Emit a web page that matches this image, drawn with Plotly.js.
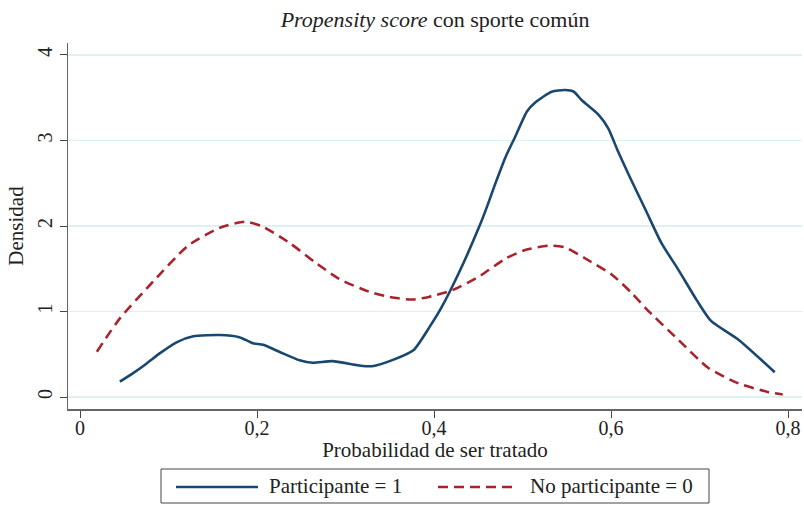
<!DOCTYPE html>
<html>
<head>
<meta charset="utf-8">
<script src="https://cdn.plot.ly/plotly-3.0.1.min.js"></script>
<style>html,body{margin:0;padding:0;background:#fff;}#chart{width:804px;height:505px;}</style>
</head>
<body>
<div id="chart"></div>
<script>
// Participante = 1
const xPart = [0.045, 0.060, 0.075, 0.090, 0.109, 0.128, 0.158, 0.180, 0.195, 0.207, 0.225, 0.248, 0.263, 0.285, 0.315, 0.330, 0.355, 0.377, 0.395, 0.4075, 0.428, 0.451, 0.460, 0.468, 0.481, 0.492, 0.505, 0.515, 0.533, 0.548, 0.558, 0.567, 0.586, 0.597, 0.608, 0.620, 0.639, 0.657, 0.676, 0.697, 0.713, 0.744, 0.785];
const yPart = [0.18, 0.28, 0.39, 0.51, 0.64, 0.71, 0.725, 0.70, 0.63, 0.61, 0.53, 0.43, 0.40, 0.42, 0.37, 0.36, 0.44, 0.55, 0.82, 1.03, 1.45, 1.99, 2.23, 2.46, 2.81, 3.05, 3.34, 3.45, 3.57, 3.59, 3.57, 3.47, 3.30, 3.14, 2.87, 2.60, 2.19, 1.80, 1.49, 1.13, 0.89, 0.67, 0.29];
// No participante = 0
const xNo = [0.019, 0.045, 0.079, 0.122, 0.158, 0.186, 0.205, 0.237, 0.265, 0.293, 0.327, 0.355, 0.376, 0.394, 0.421, 0.451, 0.481, 0.503, 0.530, 0.548, 0.571, 0.601, 0.624, 0.639, 0.676, 0.710, 0.744, 0.777, 0.794];
const yNo = [0.53, 0.92, 1.31, 1.77, 1.98, 2.05, 2.00, 1.80, 1.58, 1.38, 1.23, 1.16, 1.14, 1.17, 1.25, 1.41, 1.62, 1.72, 1.77, 1.75, 1.62, 1.43, 1.21, 1.04, 0.67, 0.34, 0.16, 0.06, 0.03];

const xTickVals = [0, 0.2, 0.4, 0.6, 0.8];
const xTickText = ['0', '0,2', '0,4', '0,6', '0,8'];
const yTickVals = [0, 1, 2, 3, 4];
const yTickText = ['0', '1', '2', '3', '4'];
const seriesNames = ['Participante = 1', 'No participante = 0'];

const BLUE = '#1a476f';
const RED = '#a8232b';
const FONT = 'Liberation Serif, DejaVu Serif, serif';
const TXT = '#222';

const traces = [
  {x: xPart, y: yPart, type: 'scatter', mode: 'lines', name: seriesNames[0],
   line: {color: BLUE, width: 2.6, shape: 'spline', smoothing: 0.6}},
  {x: xNo, y: yNo, type: 'scatter', mode: 'lines', name: seriesNames[1],
   line: {color: RED, width: 2.6, dash: '10px,6px', shape: 'spline', smoothing: 0.6}}
];

const W = 734, H = 366; // plot area size in px
function px(x) { return (x - 68) / W; }
function py(y) { return (409 - y) / H; }

const layout = {
  width: 804, height: 505,
  margin: {l: 68, r: 2, t: 43, b: 96},
  paper_bgcolor: '#fff', plot_bgcolor: '#fff',
  showlegend: false,
  font: {family: FONT, color: TXT, size: 20},
  title: {text: '<i>Propensity score</i> con sporte común', x: 0.5, xref: 'paper', y: 0.962, yanchor: 'middle',
          font: {family: FONT, size: 22, color: TXT}},
  xaxis: {range: [-0.0136, 0.8158], tickvals: xTickVals, ticktext: xTickText,
          showgrid: false, zeroline: false, showline: true, linecolor: '#666', linewidth: 1.5,
          ticks: 'outside', ticklen: 7, tickcolor: '#444', tickwidth: 1, ticklabelstandoff: -7,
          tickfont: {family: FONT, size: 20, color: TXT},
          title: {text: 'Probabilidad de ser tratado', standoff: 2, font: {family: FONT, size: 21, color: TXT}}},
  yaxis: {range: [-0.14, 4.14], tickvals: yTickVals, ticktext: yTickText, tickangle: -90,
          showgrid: true, gridcolor: '#dff0f0', gridwidth: 1.2, zeroline: false,
          showline: true, linecolor: '#666', linewidth: 1.5,
          ticks: 'outside', ticklen: 7, tickcolor: '#444', tickwidth: 1,
          tickfont: {family: FONT, size: 20, color: TXT},
          title: {text: 'Densidad', standoff: 4, font: {family: FONT, size: 21, color: TXT}}},
  shapes: [
    {type: 'rect', xref: 'paper', yref: 'paper', x0: px(161), x1: px(709), y0: py(469), y1: py(503),
     line: {color: '#444', width: 1}, fillcolor: 'rgba(0,0,0,0)'},
    {type: 'line', xref: 'paper', yref: 'paper', x0: px(176), x1: px(258), y0: py(487), y1: py(487),
     line: {color: BLUE, width: 2.6}},
    {type: 'line', xref: 'paper', yref: 'paper', x0: px(438), x1: px(513), y0: py(487), y1: py(487),
     line: {color: RED, width: 2.6, dash: '10px,6px'}}
  ],
  annotations: [
    {xref: 'paper', yref: 'paper', x: px(267), y: py(486), xanchor: 'left', yanchor: 'middle', showarrow: false,
     text: seriesNames[0], font: {family: FONT, size: 21, color: TXT}},
    {xref: 'paper', yref: 'paper', x: px(528), y: py(486), xanchor: 'left', yanchor: 'middle', showarrow: false,
     text: seriesNames[1], font: {family: FONT, size: 21, color: TXT}}
  ]
};

Plotly.newPlot('chart', traces, layout, {displayModeBar: false, staticPlot: true});
</script>
</body>
</html>
